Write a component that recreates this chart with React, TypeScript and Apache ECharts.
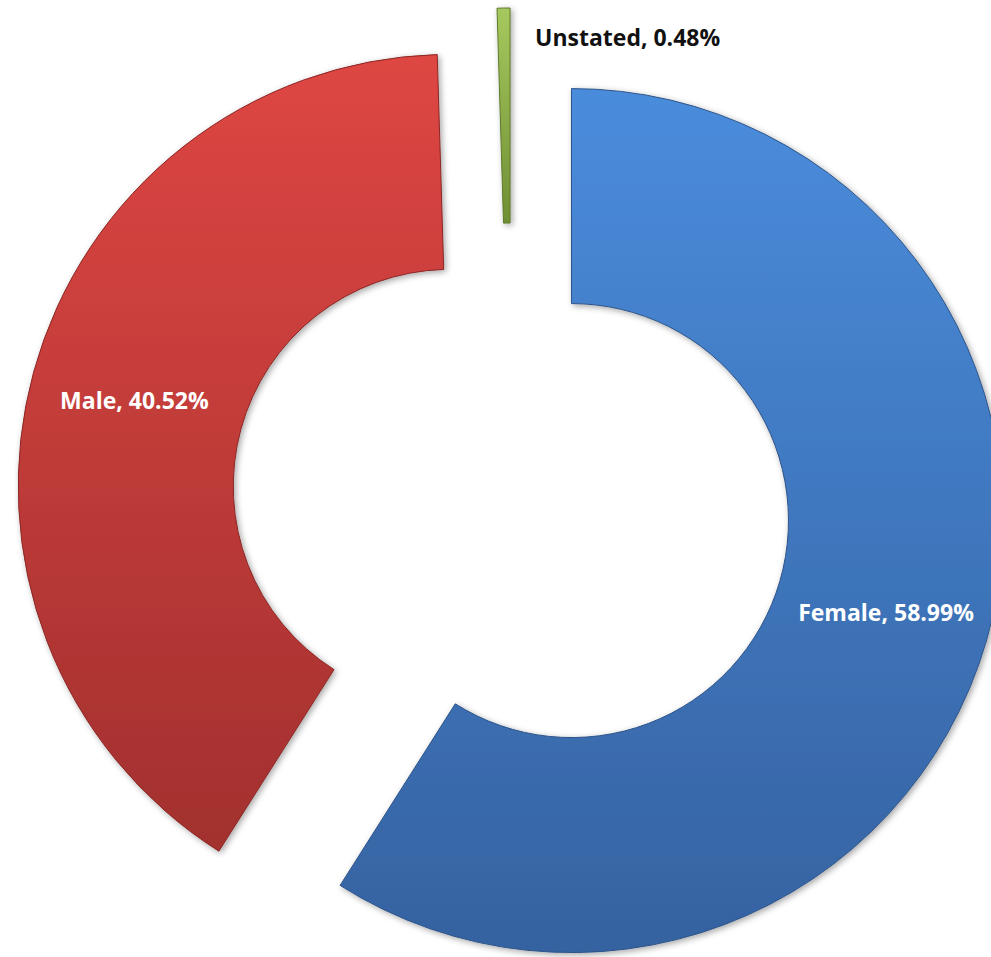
import React, { useEffect, useRef } from "react";
import * as echarts from "echarts";

const categories = ["Female", "Male", "Unstated"];
const shares = [58.99, 40.52, 0.48];
const topColors = ["#4a8cdc", "#de4643", "#a6c85e"];
const bottomColors = ["#3562a0", "#a2302e", "#6f8f33"];
const borderColors = ["#2d5489", "#8a2725", "#5d7a2a"];

const fmt = (name: string, v: number) => `${name}, ${v.toFixed(2)}%`;

export default function App() {
  const ref = useRef<HTMLDivElement>(null);
  useEffect(() => {
    if (!ref.current) return;
    const chart = echarts.init(ref.current, undefined, { renderer: "svg" });
    const data = categories.map((name, i) => ({
      name,
      value: shares[i],
      selected: true,
      itemStyle: {
        color: {
          type: "linear",
          x: 0,
          y: 0,
          x2: 0,
          y2: 1,
          colorStops: [
            { offset: 0, color: topColors[i] },
            { offset: 1, color: bottomColors[i] },
          ],
        },
        borderColor: borderColors[i],
        borderWidth: 1,
      },
      label: i === 2 ? { show: false } : { position: "inside", color: "#ffffff" },
      labelLine: { show: false },
    }));
    chart.setOption({
      animation: false,
      backgroundColor: "#ffffff",
      title: {
        text: fmt(categories[2], shares[2]),
        left: 535,
        top: 24,
        padding: 0,
        textStyle: {
          fontFamily: "Open Sans",
          fontWeight: "bold",
          fontSize: 23,
          lineHeight: 26,
          color: "#111111",
        },
      },
      series: [
        {
          type: "pie",
          center: [511, 503],
          radius: [217, 432],
          startAngle: 90,
          clockwise: true,
          selectedMode: "multiple",
          selectedOffset: 63,
          avoidLabelOverlap: false,
          silent: true,
          itemStyle: {
            shadowBlur: 6,
            shadowColor: "rgba(0,0,0,0.35)",
            shadowOffsetX: 2,
            shadowOffsetY: 2,
          },
          label: {
            show: true,
            formatter: (p: any) => fmt(p.name, p.value),
            fontFamily: "Open Sans",
            fontWeight: "bold",
            fontSize: 23,
          },
          data,
        },
      ],
    });
    return () => chart.dispose();
  }, []);
  return (
    <div
      ref={ref}
      style={{ position: "absolute", left: 0, top: 0, width: 991, height: 957 }}
    />
  );
}
